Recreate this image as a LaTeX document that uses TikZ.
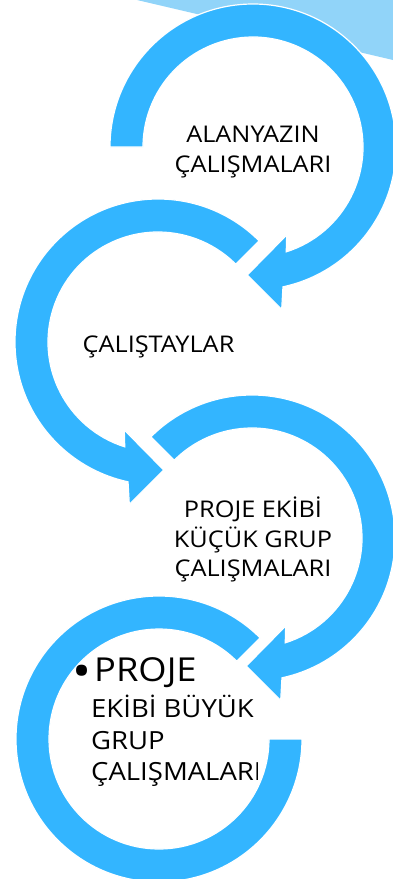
\documentclass[tikz,border=0pt]{standalone}
\usepackage{fontspec}
\setmainfont{Open Sans}[FakeStretch=1.1]
\usetikzlibrary{positioning}
\definecolor{ringblue}{RGB}{51,181,255}
\definecolor{skyblue}{RGB}{145,212,249}

\begin{document}
\begin{tikzpicture}[x=1pt,y=1pt]
	\tikzstyle{ring}=[fill=ringblue, draw=white, line width=1.2pt]
	\tikzstyle{ringtext}=[inner sep=0pt, align=center, font=\fontsize{23}{29.5}\selectfont]
	
	\clip (0,0) rectangle (393,-879);
	\fill[skyblue] (137,0) -- (393,0) -- (393,-60) -- cycle;
	
	\coordinate (c1) at (253,-147);
	\coordinate (c2) at (158,-342);
	\coordinate (c3) at (252,-538);
	\coordinate (c4) at (159,-739);
	
	% ring 1, clockwise, arrow to the left
	\begin{scope}[shift={(c1)}]
		\draw[ring] (180:143) arc[start angle=180, end angle=-77.9, radius=143] -- (28.7,-162.3) -- (-5.7,-128) -- (33.7,-88) -- (-72.4:110) arc[start angle=-72.4, end angle=180, radius=110] -- cycle;
	\end{scope}
	
	% ring 2, counter-clockwise, arrow to the right
	\begin{scope}[shift={(c2)}]
		\draw[ring] (45:143) arc[start angle=45, end angle=257.9, radius=143] -- (-28.7,-162.3) -- (5.7,-128) -- (-33.7,-88) -- (252.4:110) arc[start angle=252.4, end angle=45, radius=110] -- cycle;
	\end{scope}
	
	% ring 3
	\begin{scope}[shift={(c3)}]
		\draw[ring] (135:143) arc[start angle=135, end angle=-77.9, radius=143] -- (28.7,-162.3) -- (-5.7,-128) -- (33.7,-88) -- (-72.4:110) arc[start angle=-72.4, end angle=135, radius=110] -- cycle;
	\end{scope}
	
	% ring 4, no arrow
	\begin{scope}[shift={(c4)}]
		\draw[ring] (45:143) arc[start angle=45, end angle=360, radius=143] -- (0:110) arc[start angle=360, end angle=45, radius=110] -- cycle;
	\end{scope}
	
	\node at (253,-126) [ringtext, anchor=north] (t1) {ALANYAZIN\\ÇALIŞMALARI};
	\node at (158.5,-352) [ringtext, anchor=base] (t2) {ÇALIŞTAYLAR};
	\node at (253,-497) [ringtext, anchor=north] (t3) {PROJE EKİBİ\\KÜÇÜK GRUP\\ÇALIŞMALARI};
	
	\begin{scope}
		\clip (0,-600) rectangle (257,-879);
		\node at (91,-657) [ringtext, align=left, anchor=north west, font=\fontsize{25}{31.5}\selectfont] (t4) {\hspace*{3pt}{\fontsize{33}{36}\selectfont\llap{\raisebox{-6pt}{\fontsize{46}{46}\selectfont\textbullet}\hspace{3pt}}PROJE}\\[5pt]EKİBİ BÜYÜK\\GRUP\\ÇALIŞMALARI};
	\end{scope}
\end{tikzpicture}
\end{document}
